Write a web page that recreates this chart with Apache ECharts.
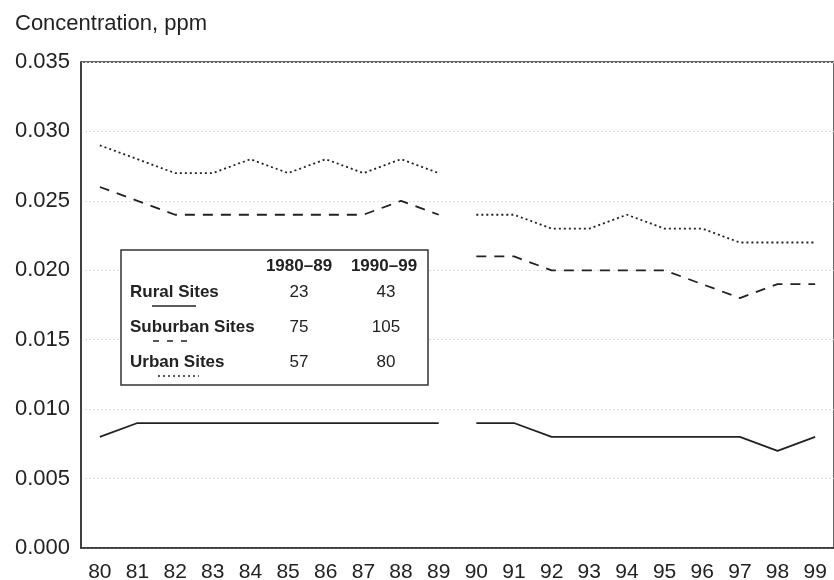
<!DOCTYPE html>
<html>
<head>
<meta charset="utf-8">
<script src="https://cdn.jsdelivr.net/npm/echarts@6/dist/echarts.min.js"></script>
<style>
  html, body { margin: 0; padding: 0; background: #fff; }
  #chart { width: 834px; height: 580px; }
</style>
</head>
<body>
<div id="chart"></div>
<script>
// Years 1980-1999, shown as two-digit labels
const years = ['80','81','82','83','84','85','86','87','88','89',
               '90','91','92','93','94','95','96','97','98','99'];

// Annual mean NO2 concentration (ppm); the break between 89 and 90 is a null gap
const urban = [0.029, 0.028, 0.027, 0.027, 0.028, 0.027, 0.028, 0.027, 0.028, 0.027,
               0.024, 0.024, 0.023, 0.023, 0.024, 0.023, 0.023, 0.022, 0.022, 0.022];
const suburban = [0.026, 0.025, 0.024, 0.024, 0.024, 0.024, 0.024, 0.024, 0.025, 0.024,
                  0.021, 0.021, 0.020, 0.020, 0.020, 0.020, 0.019, 0.018, 0.019, 0.019];
const rural = [0.008, 0.009, 0.009, 0.009, 0.009, 0.009, 0.009, 0.009, 0.009, 0.009,
               0.009, 0.009, 0.008, 0.008, 0.008, 0.008, 0.008, 0.008, 0.007, 0.008];

// Number of monitoring sites per period
const siteTypes = ['Rural Sites', 'Suburban Sites', 'Urban Sites'];
const periods = ['1980\u201389', '1990\u201399'];
const sites8089 = [23, 75, 57];
const sites9099 = [43, 105, 80];

// Insert a gap between 1989 and 1990 so each decade is drawn separately
function split(arr) {
  const first = arr.map((v, i) => (i <= 9 ? v : null));
  const second = arr.map((v, i) => (i >= 10 ? v : null));
  return [first, second];
}

const FONT = 'Liberation Sans, Arial, Helvetica, sans-serif';
const INK = '#222';

const chart = echarts.init(document.getElementById('chart'), null, { renderer: 'canvas' });

function lineSeries(name, data, type, width) {
  return {
    name: name,
    type: 'line',
    data: data,
    symbol: 'none',
    connectNulls: false,
    animation: false,
    lineStyle: { color: INK, width: width, type: type },
    z: 3
  };
}

const [urbanA, urbanB] = split(urban);
const [subA, subB] = split(suburban);
const [ruralA, ruralB] = split(rural);

// Legend / site-count table drawn as a boxed panel
const boxX = 121, boxY = 250, boxW = 307, boxH = 135;
const rowY = [292, 327, 362];
const colX = [299, 384];
const tableGraphics = [
  { type: 'rect', shape: { x: boxX, y: boxY, width: boxW, height: boxH },
    style: { fill: '#fff', stroke: '#333', lineWidth: 1.5 }, z: 10 }
];
periods.forEach((p, j) => {
  tableGraphics.push({ type: 'text', x: colX[j], y: 266, z: 11,
    style: { text: p, font: 'bold 17px ' + FONT, fill: INK, textAlign: 'center', textVerticalAlign: 'middle' } });
});
siteTypes.forEach((s, i) => {
  tableGraphics.push({ type: 'text', x: 130, y: rowY[i], z: 11,
    style: { text: s, font: 'bold 17px ' + FONT, fill: INK, textAlign: 'left', textVerticalAlign: 'middle' } });
  tableGraphics.push({ type: 'text', x: colX[0], y: rowY[i], z: 11,
    style: { text: String(sites8089[i]), font: '17px ' + FONT, fill: INK, textAlign: 'center', textVerticalAlign: 'middle' } });
  tableGraphics.push({ type: 'text', x: colX[1] + 2, y: rowY[i], z: 11,
    style: { text: String(sites9099[i]), font: '17px ' + FONT, fill: INK, textAlign: 'center', textVerticalAlign: 'middle' } });
});
// Line samples under each site label
tableGraphics.push({ type: 'line', z: 11, shape: { x1: 152, y1: 306, x2: 196, y2: 306 },
  style: { stroke: INK, lineWidth: 1.5 } });
tableGraphics.push({ type: 'line', z: 11, shape: { x1: 153, y1: 341, x2: 191, y2: 341 },
  style: { stroke: INK, lineWidth: 1.5, lineDash: [6, 8] } });
tableGraphics.push({ type: 'line', z: 11, shape: { x1: 158, y1: 376, x2: 199, y2: 376 },
  style: { stroke: INK, lineWidth: 1.5, lineDash: [2, 3] } });

const option = {
  backgroundColor: '#fff',
  animation: false,
  grid: {
    left: 81, right: 0, top: 62, bottom: 32,
    outerBoundsMode: 'none',
    show: true, borderColor: '#333', borderWidth: 1.5, backgroundColor: 'transparent'
  },
  title: {
    text: 'Concentration, ppm',
    left: 10, top: 8,
    textStyle: { fontFamily: FONT, fontSize: 22, fontWeight: 'normal', color: INK }
  },
  xAxis: {
    type: 'category',
    data: years,
    boundaryGap: true,
    axisLine: { show: true, lineStyle: { color: '#333', width: 1.5 } },
    axisTick: { show: false },
    axisLabel: { fontFamily: FONT, fontSize: 21, color: INK, margin: 14, interval: 0 }
  },
  yAxis: {
    type: 'value',
    min: 0, max: 0.035, interval: 0.005,
    axisLine: { show: true, lineStyle: { color: '#333', width: 1.5 } },
    axisTick: { show: false },
    axisLabel: {
      fontFamily: FONT, fontSize: 22, color: INK, margin: 11,
      formatter: v => v.toFixed(3)
    },
    splitLine: { show: true, lineStyle: { color: '#ddd', width: 1, type: [2, 2] } }
  },
  series: [
    lineSeries('Urban Sites', urbanA, [2, 3], 1.8),
    lineSeries('Urban Sites', urbanB, [2, 3], 1.8),
    lineSeries('Suburban Sites', subA, [10, 8], 1.8),
    lineSeries('Suburban Sites', subB, [10, 8], 1.8),
    lineSeries('Rural Sites', ruralA, 'solid', 1.8),
    lineSeries('Rural Sites', ruralB, 'solid', 1.8)
  ],
  graphic: tableGraphics
};

chart.setOption(option);
</script>
</body>
</html>
